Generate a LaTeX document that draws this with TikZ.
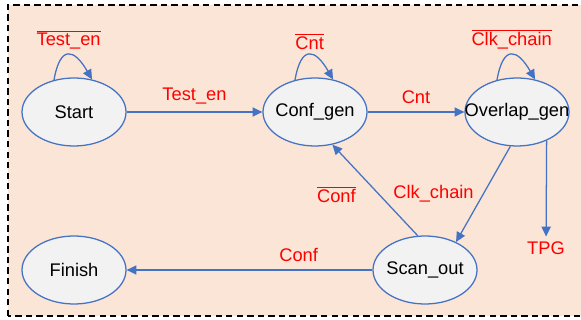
\documentclass[tikz,border=0pt]{standalone}
\usepackage{fontspec}
\setmainfont{Liberation Sans}
\usepackage{amsmath}
\usetikzlibrary{arrows.meta,shapes.geometric}

\definecolor{bgpink}{HTML}{FBE5D6}
\definecolor{stateblue}{HTML}{4472C4}
\definecolor{statefill}{HTML}{F2F2F2}

\begin{document}
\begin{tikzpicture}[
    state/.style={ellipse,draw=stateblue,line width=0.9pt,fill=statefill,
        minimum width=2.6cm,minimum height=1.7cm,inner xsep=-14pt,inner ysep=0pt,
        font=\fontsize{13}{15}\selectfont},
    lab/.style={text=red,font=\fontsize{13}{15}\selectfont},
    arr/.style={-{Triangle[length=7pt,width=6.5pt]},draw=stateblue,line width=0.9pt}
]
    \useasboundingbox (0,0) rectangle (14.525,8);
    \clip (0,0) rectangle (14.525,8);
    \draw[black,line width=1pt,dash pattern=on 4.5pt off 3pt,fill=bgpink]
        (0.2,0.1) rectangle (15,7.875);

    \node[state] (start) at (1.85,5.2) {Start};
    \node[state] (conf) at (7.875,5.2) {Conf\_gen};
    \node[state] (over) at (12.925,5.2) {Overlap\_gen};
    \node[state] (finish) at (1.85,1.25) {Finish};
    \node[state] (scan) at (10.625,1.25) {Scan\_out};
    \node[lab] (tpg) at (13.65,1.8) {TPG};

    % self loops
    \draw[arr] (start.122) to[out=80,in=120,looseness=2.4]
        node[lab,above=0pt] {$\overline{\mbox{Test\_en}}$} (start.61);
    \draw[arr] (conf.122) to[out=80,in=120,looseness=2.4]
        node[lab,above=0pt] {$\overline{\mbox{Cnt}}$} (conf.61);
    \draw[arr] (over.122) to[out=80,in=120,looseness=2.4]
        node[lab,above=0pt] {$\overline{\mbox{Clk\_chain}}$} (over.61);

    % transitions
    \draw[arr] (start) -- node[lab,above=2pt] {Test\_en} (conf);
    \draw[arr] (conf) -- node[lab,above=2pt] {Cnt} (over);
    \draw[arr] (over.259) -- node[lab,left=3pt] {Clk\_chain} (scan.42);
    \draw[arr] (over.316) -- (tpg);
    \draw[arr] (scan.102) -- node[lab,left=10pt,yshift=-3pt] {$\overline{\mbox{Conf}}$} (conf.298);
    \draw[arr] (scan) -- node[lab,pos=0.3,above=2pt] {Conf} (finish);
\end{tikzpicture}
\end{document}
